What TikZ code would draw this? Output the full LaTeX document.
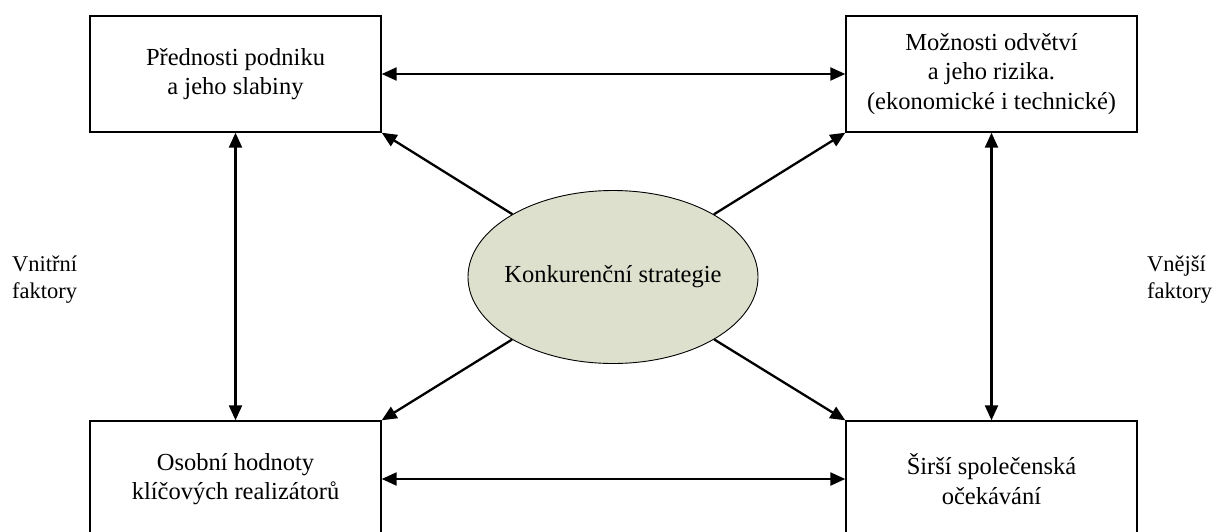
\documentclass[tikz,border=0pt]{standalone}
\usepackage{fontspec}
\setmainfont{Liberation Serif}
\usetikzlibrary{arrows.meta,shapes.geometric}
\definecolor{ellfill}{RGB}{222,224,206}
\begin{document}
\begin{tikzpicture}[x=1pt,y=-1pt,
  box/.style={draw, line width=1.4pt, minimum width=291pt, minimum height=116pt,
    inner sep=0pt, align=center, font=\fontsize{24.5}{29.5}\selectfont},
  core/.style={ellipse, draw, line width=0.9pt, fill=ellfill, minimum width=290pt,
    minimum height=173pt, inner sep=0pt, font=\fontsize{24.5}{29.5}\selectfont},
  side/.style={align=left, inner sep=0pt, anchor=west, font=\fontsize{22.5}{27}\selectfont},
  link/.style={line width=2.3pt, {Triangle[length=15pt,width=13pt]}-{Triangle[length=15pt,width=13pt]}},
  push/.style={line width=2.3pt, -{Triangle[length=15pt,width=13pt]}}]
  \useasboundingbox (0,0) rectangle (1219,531);
  \clip (0,0) rectangle (1219,531);

  % the four factor boxes
  \node[box] (tl) at (235.5,74) {Přednosti podniku\\a jeho slabiny};
  \node[box] (tr) at (991.5,74) {Možnosti odvětví\\a jeho rizika.\\(ekonomické i technické)};
  \node[box] (bl) at (235.5,479) {Osobní hodnoty\\klíčových realizátorů};
  \node[box] (br) at (991.5,479) {Širší společenská\\očekávání};

  % the strategy in the middle (zero-width text so the ellipse keeps its size)
  \node[core] (cs) at (613,277) {\makebox[0pt][c]{Konkurenční strategie}};

  % side labels
  \node[side] (inner) at (12,280) {Vnitřní\\faktory};
  \node[side] (outer) at (1147,280) {Vnější\\faktory};

  % links between the factors
  \draw[link] (tl.east) -- (tr.west);
  \draw[link] (bl.east) -- (br.west);
  \draw[link] (tl.south) -- (bl.north);
  \draw[link] (tr.south) -- (br.north);

  % the strategy acting on each factor
  \draw[push] (cs) -- (tl.south east);
  \draw[push] (cs) -- (tr.south west);
  \draw[push] (cs) -- (bl.north east);
  \draw[push] (cs) -- (br.north west);
\end{tikzpicture}
\end{document}
